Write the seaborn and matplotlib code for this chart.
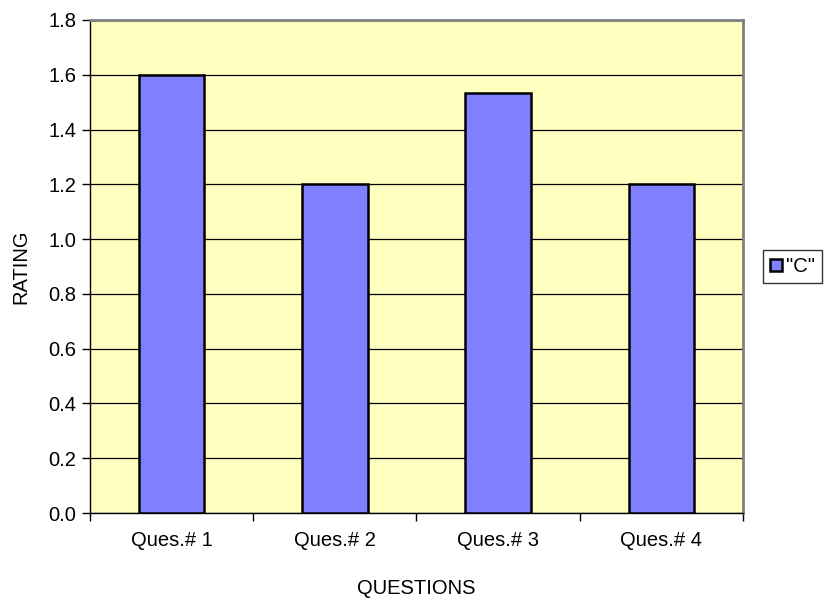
import numpy as np
import pandas as pd
import matplotlib
matplotlib.use("Agg")
import matplotlib.pyplot as plt
import seaborn as sns

# ─── DATA ──────────────────────────────────────────────────────────────────────
questions = ["Ques.# 1", "Ques.# 2", "Ques.# 3", "Ques.# 4"]
ratings   = [1.6, 1.2, 1.533, 1.2]
series    = '"C"'
y_ticks   = [0.0, 0.2, 0.4, 0.6, 0.8, 1.0, 1.2, 1.4, 1.6, 1.8]

BAR_COLOR = "#8080FF"
BG_COLOR  = "#FFFFC0"

df = pd.DataFrame({"question": questions, "rating": ratings, "series": series})

# ─── PLOT ──────────────────────────────────────────────────────────────────────
sns.set_style("white")
plt.rcParams["font.family"] = ["Liberation Sans", "DejaVu Sans"]
plt.rcParams["text.color"] = "black"
plt.rcParams["axes.labelcolor"] = "black"
plt.rcParams["xtick.color"] = "black"
plt.rcParams["ytick.color"] = "black"

fig = plt.figure(figsize=(8.24, 5.98), dpi=100)
ax = fig.add_axes([0.1092, 0.1421, 0.7925, 0.8245])
ax.set_facecolor(BG_COLOR)

sns.barplot(data=df, x="question", y="rating", hue="series",
            palette=[BAR_COLOR], width=0.4, edgecolor="black",
            linewidth=1.8, saturation=1, ax=ax, zorder=3)

ax.set_xlim(-0.5, len(questions) - 0.5)
ax.set_ylim(0, 1.8)
ax.set_yticks(y_ticks)
ax.set_yticklabels([f"{v:.1f}" for v in y_ticks], fontsize=14.5)
ax.yaxis.grid(True, color="black", linewidth=0.9, zorder=1)
ax.set_axisbelow(True)

# category ticks at boundaries, labels centred
ax.set_xticks(range(len(questions)))
ax.set_xticklabels(questions, fontsize=14.5)
ax.set_xticks(np.arange(-0.5, len(questions)), minor=True)
ax.tick_params(axis="x", which="major", length=0, pad=13)
ax.tick_params(axis="x", which="minor", bottom=True, length=6, width=1,
               color="black", direction="out")
ax.tick_params(axis="y", length=6, width=1, color="black", direction="out",
               left=True, pad=4)

ax.set_xlabel("QUESTIONS", fontsize=14.5, labelpad=21)
ax.set_ylabel("RATING", fontsize=14.5, labelpad=13)

for side in ["left", "bottom"]:
    ax.spines[side].set_color("black")
    ax.spines[side].set_linewidth(1)
for side in ["top", "right"]:
    ax.spines[side].set_color("#808080")
    ax.spines[side].set_linewidth(2)

ax.legend(loc="center left", bbox_to_anchor=(1.03, 0.50), fontsize=14.5,
          frameon=True, fancybox=False, edgecolor="black", handlelength=0.6,
          handleheight=0.6, handletextpad=0.2, borderpad=0.35, borderaxespad=0)

fig.savefig("out.png", dpi=100, facecolor="white")
